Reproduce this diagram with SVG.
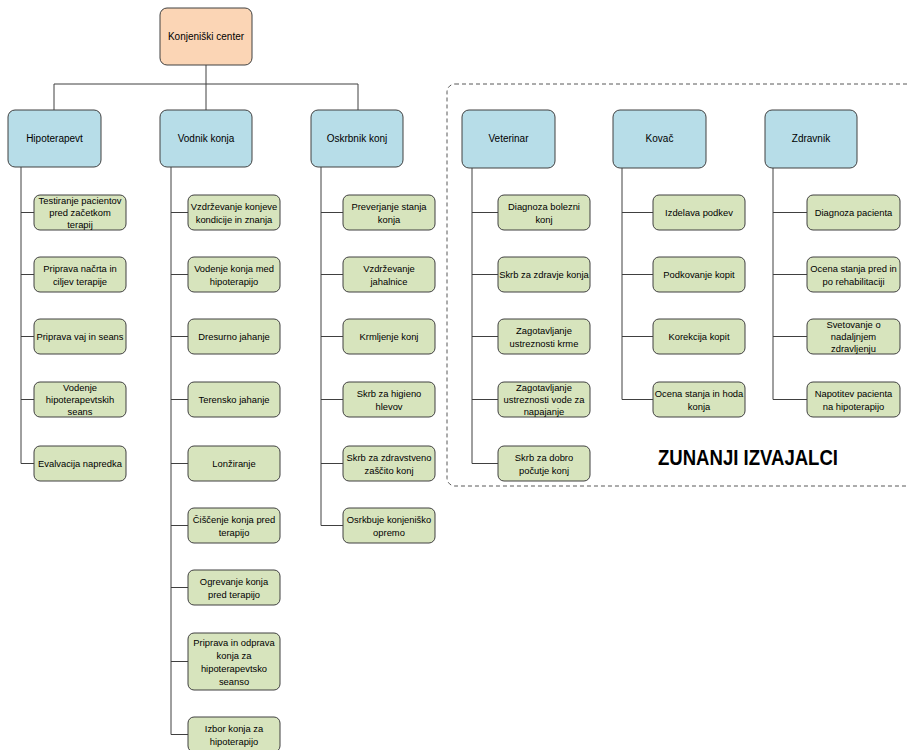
<svg xmlns="http://www.w3.org/2000/svg" width="908" height="750" viewBox="0 0 908 750">
<style>
text{font-family:"Liberation Sans",Arial,sans-serif;font-size:9.4px;fill:#000;text-anchor:middle}
.root{fill:#FBD5B5;stroke:#404040;stroke-width:1}
.l1{fill:#B7DDE8;stroke:#404040;stroke-width:1}
.l2{fill:#D7E4BD;stroke:#404040;stroke-width:1}
.c{fill:none;stroke:#404040;stroke-width:1}
.t1{font-size:10px}
.big{font-size:22px;font-weight:bold;text-anchor:start}
</style>
<rect x="447" y="84" width="470" height="402" rx="8" fill="none" stroke="#595959" stroke-width="1" stroke-dasharray="4 3"/>
<g id="connectors">
<path class="c" d="M206 65V110M54 110V84H358V110"/>
<path class="c" d="M21 167V463.5M21 212.5H34M21 274.5H34M21 336.5H34M21 399.5H34M21 463.5H34"/>
<path class="c" d="M171 167V734.5M171 212.5H188M171 274.5H188M171 336.5H188M171 399.5H188M171 463.5H188M171 525.5H188M171 587.5H188M171 661.5H188M171 734.5H188"/>
<path class="c" d="M321 167V525.5M321 212.5H343M321 274.5H343M321 336.5H343M321 399.5H343M321 463.5H343M321 525.5H343"/>
<path class="c" d="M472 168V463.5M472 212.5H498M472 274.5H498M472 336.5H498M472 399.5H498M472 463.5H498"/>
<path class="c" d="M622 168V399.5M622 212.5H653M622 274.5H653M622 336.5H653M622 399.5H653"/>
<path class="c" d="M773 168V399.5M773 212.5H807M773 274.5H807M773 336.5H807M773 399.5H807"/>
</g>
<g id="root"><rect class="root" x="160" y="8" width="92" height="57" rx="7"/><text class="t1" x="206" y="40">Konjeniški center</text></g>
<g id="hipoterapevt"><rect class="l1" x="8" y="110" width="93" height="57" rx="7"/><text class="t1" x="54.5" y="142">Hipoterapevt</text></g>
<g id="vodnik"><rect class="l1" x="160" y="110" width="92" height="57" rx="7"/><text class="t1" x="206" y="142">Vodnik konja</text></g>
<g id="oskrbnik"><rect class="l1" x="311" y="110" width="92" height="57" rx="7"/><text class="t1" x="357" y="142">Oskrbnik konj</text></g>
<g id="veterinar"><rect class="l1" x="462" y="110" width="93" height="58" rx="7"/><text class="t1" x="508.5" y="142">Veterinar</text></g>
<g id="kovac"><rect class="l1" x="613" y="110" width="93" height="58" rx="7"/><text class="t1" x="659.5" y="142">Kovač</text></g>
<g id="zdravnik"><rect class="l1" x="765" y="110" width="92" height="58" rx="7"/><text class="t1" x="811" y="142">Zdravnik</text></g>

<g id="a1"><rect class="l2" x="34" y="195" width="92" height="35" rx="6"/><text x="80" y="204"><tspan x="80">Testiranje pacientov</tspan><tspan x="80" dy="12">pred začetkom</tspan><tspan x="80" dy="12">terapij</tspan></text></g>
<g id="a2"><rect class="l2" x="34" y="257" width="92" height="35" rx="6"/><text x="80" y="272"><tspan x="80">Priprava načrta in</tspan><tspan x="80" dy="13">ciljev terapije</tspan></text></g>
<g id="a3"><rect class="l2" x="34" y="319" width="92" height="35" rx="6"/><text x="80" y="340">Priprava vaj in seans</text></g>
<g id="a4"><rect class="l2" x="34" y="382" width="92" height="35" rx="6"/><text x="80" y="391"><tspan x="80">Vodenje</tspan><tspan x="80" dy="12">hipoterapevtskih</tspan><tspan x="80" dy="12">seans</tspan></text></g>
<g id="a5"><rect class="l2" x="34" y="446" width="92" height="35" rx="6"/><text x="80" y="467">Evalvacija napredka</text></g>

<g id="b1"><rect class="l2" x="188" y="195" width="92" height="35" rx="6"/><text x="234" y="210"><tspan x="234">Vzdrževanje konjeve</tspan><tspan x="234" dy="13">kondicije in znanja</tspan></text></g>
<g id="b2"><rect class="l2" x="188" y="257" width="92" height="35" rx="6"/><text x="234" y="272"><tspan x="234">Vodenje konja med</tspan><tspan x="234" dy="13">hipoterapijo</tspan></text></g>
<g id="b3"><rect class="l2" x="188" y="319" width="92" height="35" rx="6"/><text x="234" y="340">Dresurno jahanje</text></g>
<g id="b4"><rect class="l2" x="188" y="382" width="92" height="35" rx="6"/><text x="234" y="403">Terensko jahanje</text></g>
<g id="b5"><rect class="l2" x="188" y="446" width="92" height="35" rx="6"/><text x="234" y="467">Lonžiranje</text></g>
<g id="b6"><rect class="l2" x="188" y="508" width="92" height="35" rx="6"/><text x="234" y="523"><tspan x="234">Čiščenje konja pred</tspan><tspan x="234" dy="13">terapijo</tspan></text></g>
<g id="b7"><rect class="l2" x="188" y="570" width="92" height="35" rx="6"/><text x="234" y="585"><tspan x="234">Ogrevanje konja</tspan><tspan x="234" dy="13">pred terapijo</tspan></text></g>
<g id="b8"><rect class="l2" x="188" y="633" width="92" height="57" rx="6"/><text x="234" y="646"><tspan x="234">Priprava in odprava</tspan><tspan x="234" dy="13">konja za</tspan><tspan x="234" dy="13">hipoterapevtsko</tspan><tspan x="234" dy="13">seanso</tspan></text></g>
<g id="b9"><rect class="l2" x="188" y="717" width="92" height="35" rx="6"/><text x="234" y="732"><tspan x="234">Izbor konja za</tspan><tspan x="234" dy="13">hipoterapijo</tspan></text></g>

<g id="c1"><rect class="l2" x="343" y="195" width="92" height="35" rx="6"/><text x="389" y="210"><tspan x="389">Preverjanje stanja</tspan><tspan x="389" dy="13">konja</tspan></text></g>
<g id="c2"><rect class="l2" x="343" y="257" width="92" height="35" rx="6"/><text x="389" y="272"><tspan x="389">Vzdrževanje</tspan><tspan x="389" dy="13">jahalnice</tspan></text></g>
<g id="c3"><rect class="l2" x="343" y="319" width="92" height="35" rx="6"/><text x="389" y="340">Krmljenje konj</text></g>
<g id="c4"><rect class="l2" x="343" y="382" width="92" height="35" rx="6"/><text x="389" y="397"><tspan x="389">Skrb za higieno</tspan><tspan x="389" dy="13">hlevov</tspan></text></g>
<g id="c5"><rect class="l2" x="343" y="446" width="92" height="35" rx="6"/><text x="389" y="461"><tspan x="389">Skrb za zdravstveno</tspan><tspan x="389" dy="13">zaščito konj</tspan></text></g>
<g id="c6"><rect class="l2" x="343" y="508" width="92" height="35" rx="6"/><text x="389" y="523"><tspan x="389">Osrkbuje konjeniško</tspan><tspan x="389" dy="13">opremo</tspan></text></g>

<g id="d1"><rect class="l2" x="498" y="195" width="92" height="35" rx="6"/><text x="544" y="210"><tspan x="544">Diagnoza bolezni</tspan><tspan x="544" dy="13">konj</tspan></text></g>
<g id="d2"><rect class="l2" x="498" y="257" width="92" height="35" rx="6"/><text x="544" y="278">Skrb za zdravje konja</text></g>
<g id="d3"><rect class="l2" x="498" y="319" width="92" height="35" rx="6"/><text x="544" y="334"><tspan x="544">Zagotavljanje</tspan><tspan x="544" dy="13">ustreznosti krme</tspan></text></g>
<g id="d4"><rect class="l2" x="498" y="382" width="92" height="35" rx="6"/><text x="544" y="391"><tspan x="544">Zagotavljanje</tspan><tspan x="544" dy="12">ustreznosti vode za</tspan><tspan x="544" dy="12">napajanje</tspan></text></g>
<g id="d5"><rect class="l2" x="498" y="446" width="92" height="35" rx="6"/><text x="544" y="461"><tspan x="544">Skrb za dobro</tspan><tspan x="544" dy="13">počutje konj</tspan></text></g>

<g id="e1"><rect class="l2" x="653" y="195" width="92" height="35" rx="6"/><text x="699" y="216">Izdelava podkev</text></g>
<g id="e2"><rect class="l2" x="653" y="257" width="92" height="35" rx="6"/><text x="699" y="278">Podkovanje kopit</text></g>
<g id="e3"><rect class="l2" x="653" y="319" width="92" height="35" rx="6"/><text x="699" y="340">Korekcija kopit</text></g>
<g id="e4"><rect class="l2" x="653" y="382" width="92" height="35" rx="6"/><text x="699" y="397"><tspan x="699">Ocena stanja in hoda</tspan><tspan x="699" dy="13">konja</tspan></text></g>

<g id="f1"><rect class="l2" x="807" y="195" width="93" height="35" rx="6"/><text x="853.5" y="216">Diagnoza pacienta</text></g>
<g id="f2"><rect class="l2" x="807" y="257" width="93" height="35" rx="6"/><text x="853.5" y="272"><tspan x="853.5">Ocena stanja pred in</tspan><tspan x="853.5" dy="13">po rehabilitaciji</tspan></text></g>
<g id="f3"><rect class="l2" x="807" y="319" width="93" height="35" rx="6"/><text x="853.5" y="328"><tspan x="853.5">Svetovanje o</tspan><tspan x="853.5" dy="12">nadaljnjem</tspan><tspan x="853.5" dy="12">zdravljenju</tspan></text></g>
<g id="f4"><rect class="l2" x="807" y="382" width="93" height="35" rx="6"/><text x="853.5" y="397"><tspan x="853.5">Napotitev pacienta</tspan><tspan x="853.5" dy="13">na hipoterapijo</tspan></text></g>

<text class="big" x="658" y="465" textLength="180" lengthAdjust="spacingAndGlyphs">ZUNANJI IZVAJALCI</text>
</svg>
